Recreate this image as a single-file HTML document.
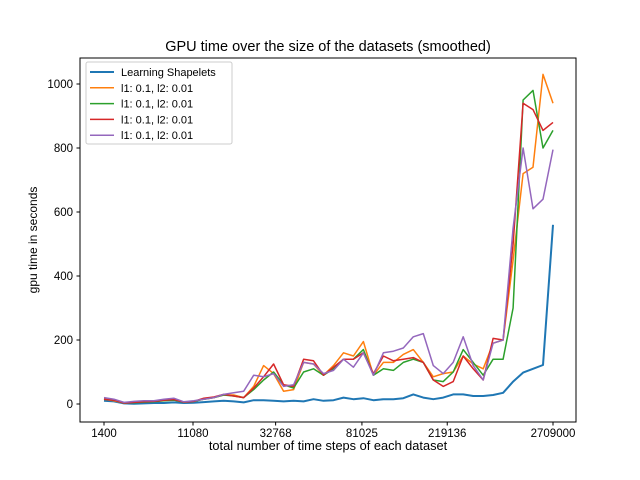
<!DOCTYPE html>
<html><head><meta charset="utf-8"><style>
body{margin:0;background:#fff}
svg{display:block;font-family:"Liberation Sans","DejaVu Sans",sans-serif}
</style></head><body>
<svg id="chart" width="640" height="480">
<rect width="640" height="480" fill="#fff"/>
<text x="328" y="51" font-size="14.5" text-anchor="middle">GPU time over the size of the datasets (smoothed)</text>
<text x="328" y="450" font-size="12.8" text-anchor="middle">total number of time steps of each dataset</text>
<text transform="translate(37,240) rotate(-90)" font-size="12" text-anchor="middle">gpu time in seconds</text>
<g id="ticks"></g>
<g id="series"></g>
<rect x="80" y="58" width="496" height="364" fill="none" stroke="#000" stroke-width="1"/>
<g id="legend"></g>
</svg>
<script>
const xTickPos = [0, 8.92, 17.2, 25.85, 34.4, 45];
const xTickLabels = ["1400", "11080", "32768", "81025", "219136", "2709000"];
const yTicks = [0, 200, 400, 600, 800, 1000];
const seriesNames = ["Learning Shapelets", "l1: 0.1, l2: 0.01", "l1: 0.1, l2: 0.01", "l1: 0.1, l2: 0.01", "l1: 0.1, l2: 0.01"];
const colors = ["#1f77b4", "#ff7f0e", "#2ca02c", "#d62728", "#9467bd"];
const blue = [10,8,2,1,2,3,3,5,3,4,6,8,10,8,5,12,12,10,8,10,8,15,10,12,20,15,18,12,15,15,18,30,20,15,20,30,30,25,25,28,35,70,98,110,122,560];
const orange = [15,10,3,5,7,8,12,15,6,8,15,20,28,28,20,55,120,95,40,45,130,125,90,120,160,150,195,90,130,130,155,170,130,85,95,100,150,125,110,190,200,450,720,740,1030,940];
const green = [15,12,3,4,6,7,10,12,6,8,15,20,28,25,20,45,75,100,60,50,100,110,90,110,140,140,170,90,110,105,130,140,130,75,70,100,170,130,90,140,140,300,950,980,800,855];
const red = [15,12,3,5,7,8,12,14,6,8,18,22,30,25,20,50,85,125,60,55,140,135,90,115,140,140,160,95,150,135,140,145,130,75,55,70,150,110,75,205,200,500,940,920,855,880];
const purple = [20,15,5,8,10,10,15,18,7,10,15,20,30,35,40,90,85,95,55,60,130,125,95,105,140,115,160,90,160,165,175,210,220,120,95,130,210,120,75,190,200,550,800,610,640,795];
const allSeries = [blue, orange, green, red, purple];

const xs = i => 104 + i * (553 - 104) / 45;
const ys = v => 404 - v * 0.32;
const NS = "http://www.w3.org/2000/svg";
function mk(tag, attrs, parent) { const e = document.createElementNS(NS, tag); for (const k in attrs) e.setAttribute(k, attrs[k]); parent.appendChild(e); return e; }

const tg = document.getElementById("ticks");
xTickPos.forEach((p, i) => {
  const l = mk("line", {x1: xs(p), x2: xs(p), y1: 422, y2: 425.5, stroke: "#000"}, tg);
  
  
  const t = mk("text", {x: xs(p), y: 437, "font-size": 11.5, "text-anchor": "middle"}, tg);
  t.textContent = xTickLabels[i];
  
  
});
yTicks.forEach(v => {
  const l = mk("line", {x1: 76.5, x2: 80, y1: ys(v), y2: ys(v), stroke: "#000"}, tg);
  
  
  const t = mk("text", {x: 73, y: ys(v) + 4, "font-size": 11.5, "text-anchor": "end"}, tg);
  t.textContent = v;
  
  
});

const sg = document.getElementById("series");
allSeries.forEach((arr, s) => {
  const d = arr.map((v, i) => (i ? "L" : "M") + xs(i).toFixed(1) + "," + ys(v).toFixed(1)).join(" ");
  const p = mk("path", {d: d, fill: "none", stroke: colors[s], "stroke-width": s === 0 ? 2 : 1.5, "stroke-linejoin": "round"}, sg);
  
  
});

const lg = document.getElementById("legend");
const box = mk("rect", {x: 86, y: 62, width: 146, height: 82, rx: 2, fill: "#fff", "fill-opacity": 0.8, stroke: "#ccc"}, lg);


seriesNames.forEach((n, i) => {
  const y = 72 + i * 15.8;
  const l = mk("line", {x1: 90, x2: 114, y1: y, y2: y, stroke: colors[i], "stroke-width": i === 0 ? 2 : 1.5}, lg);
  
  
  const t = mk("text", {x: 121, y: y + 4, "font-size": 11}, lg);
  t.textContent = n;
  
  
});
</script>
</body></html>
